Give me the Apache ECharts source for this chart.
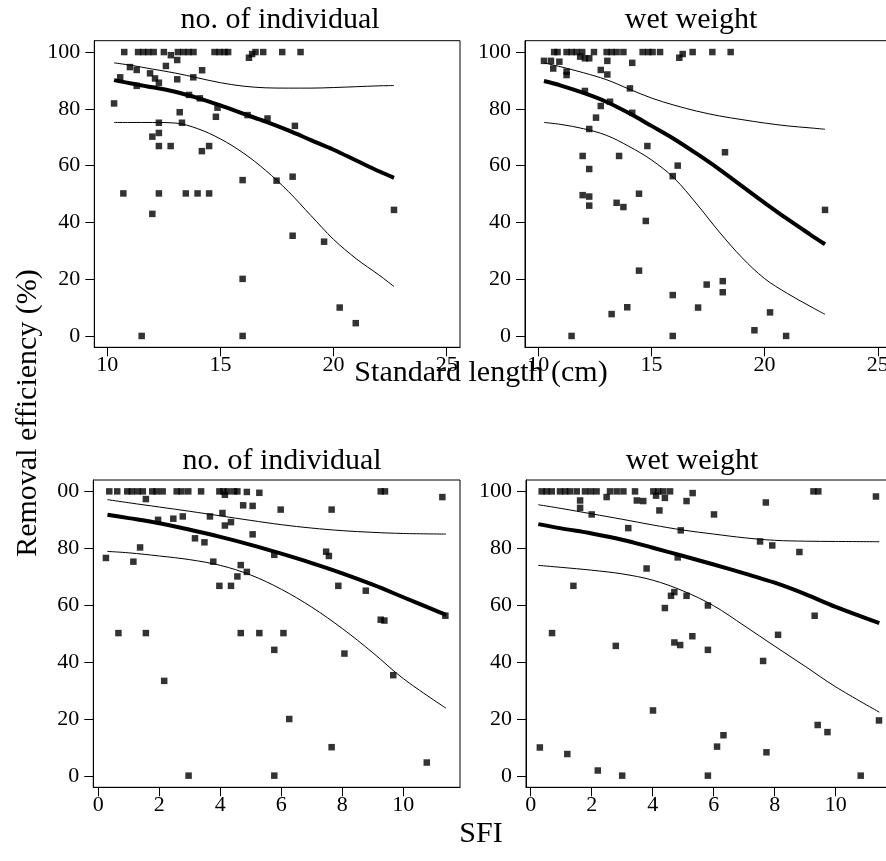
<!DOCTYPE html>
<html>
<head>
<meta charset="utf-8">
<script src="https://cdn.jsdelivr.net/npm/echarts@6/dist/echarts.min.js"></script>
<style>html,body{margin:0;padding:0;background:#fff}#c{width:886px;height:861px}</style>
</head>
<body>
<div id="c"></div>
<script>
// ---------- data ----------
const titles = ['no. of individual', 'wet weight', 'no. of individual', 'wet weight'];
const xNameTop = 'Standard length (cm)';
const xNameBottom = 'SFI';
const yName = 'Removal efficiency (%)';
const xTicksTop = [10, 15, 20, 25];
const xTicksBottom = [0, 2, 4, 6, 8, 10];
const yTicks = [0, 20, 40, 60, 80, 100];

// Panel 1: standard length vs removal efficiency (no. of individual)
const p1Points = [
[10.75,100],[11.36,100],[11.59,100],[11.81,100],[12.05,100],[12.50,100],[13.12,100],[13.36,100],[13.59,100],[13.81,100],
[14.74,100],[14.96,100],[15.18,100],[15.34,100],[16.26,98.0],[16.40,99.3],[16.55,100],[16.89,100],[17.73,100],[18.54,100],
[12.81,98.9],[13.09,97.2],[11.0,94.7],[11.30,93.7],[12.59,95.1],[11.89,92.5],[12.11,90.7],[12.28,89.2],[10.57,91.1],[11.30,88.1],
[13.09,90.4],[13.80,91.1],[14.19,93.6],[10.30,81.9],[13.61,84.9],[14.09,83.7],[14.87,80.4],[14.80,77.2],[13.20,78.8],[12.28,75.1],
[13.30,75.1],[16.20,77.8],[17.08,76.6],[12.28,71.5],[11.99,70.2],[12.28,66.9],[12.80,66.9],[14.18,65.1],[14.50,66.9],[15.98,54.9],
[10.71,50.2],[12.28,50.2],[13.47,50.2],[13.99,50.2],[14.50,50.2],[11.99,43.0],[15.98,20.1],[11.52,0],[15.98,0],
[18.29,74.0],[17.48,54.7],[18.19,56.1],[22.67,44.4],[18.19,35.3],[19.58,33.2],[20.27,10.0],[20.98,4.5]
];
const p1FitX = [10.3, 11, 12, 13, 14, 15, 16, 17, 18, 19, 20, 21, 22, 22.67];
const p1Mid  = [90.1, 89.0, 87.6, 86.0, 83.8, 81.2, 78.3, 75.5, 72.4, 69.0, 65.6, 61.8, 58.0, 55.7];
const p1Up   = [96.2, 95.4, 94.0, 92.6, 90.9, 89.2, 88.0, 87.4, 87.3, 87.3, 87.5, 87.8, 88.1, 88.2];
const p1Low  = [75.2, 75.2, 75.2, 75.0, 73.0, 69.4, 64.5, 58.3, 50.9, 42.4, 34.0, 27.2, 21.5, 17.4];

// Panel 2: standard length vs removal efficiency (wet weight)
const p2Points = [
[10.70,100],[10.85,100],[11.25,100],[11.47,100],[11.69,100],[11.94,100],[12.46,100],[13.02,100],[13.24,100],[13.46,100],
[13.76,100],[14.61,100],[14.86,100],[15.05,100],[15.38,100],[16.23,98.0],[16.38,99.3],[16.82,100],[17.69,100],[18.50,100],
[10.25,96.9],[10.56,96.9],[10.66,94.2],[10.93,96.6],[11.25,93.1],[11.25,91.9],[11.85,98.4],[12.06,97.8],[12.25,97.8],[12.76,93.7],
[13.05,96.9],[13.05,92.1],[14.15,96.2],[12.06,86.3],[14.05,87.2],[12.76,81.0],[13.17,82.5],[14.15,78.6],[12.55,76.9],[12.25,72.9],
[14.82,66.9],[11.96,63.4],[13.57,63.4],[12.25,58.8],[11.96,49.6],[12.25,49.1],[12.25,45.9],[13.46,46.9],[13.76,45.4],[14.45,50.1],
[14.75,40.5],[14.45,23.0],[13.93,10.1],[13.24,7.7],[11.47,0],
[18.25,64.7],[16.16,60.0],[15.94,56.3],[22.67,44.4],[17.44,18.1],[18.15,19.3],[18.15,15.4],[15.94,14.4],[17.06,10.0],[20.24,8.3],
[19.55,2.0],[15.94,0],[20.95,0]
];
const p2FitX = [10.25, 11, 12, 13, 14, 15, 16, 17, 18, 19, 20, 21, 22, 22.67];
const p2Mid  = [89.8, 88.2, 85.6, 82.5, 78.5, 74.0, 69.4, 64.2, 58.7, 52.8, 46.9, 41.2, 35.8, 32.3];
const p2Up   = [96.2, 94.8, 92.7, 90.3, 87.0, 83.8, 81.3, 79.2, 77.5, 76.2, 75.0, 74.0, 73.3, 72.8];
const p2Low  = [75.2, 74.5, 73.0, 70.7, 66.8, 62.0, 55.6, 46.5, 36.6, 27.6, 20.2, 15.0, 10.5, 7.6];

// Panel 3: SFI vs removal efficiency (no. of individual)
const p3Points = [
[0.36,100],[0.62,100],[0.95,100],[1.10,100],[1.29,100],[1.46,100],[1.77,100],[1.91,100],[2.11,100],[2.57,100],
[2.73,100],[2.95,100],[3.37,100],[3.97,100],[4.10,100],[4.24,100],[4.45,100],[4.56,100],[4.87,99.8],[5.28,99.5],
[9.26,100],[9.40,100],
[4.15,98.8],[1.56,97.3],[4.75,95.1],[5.06,94.9],[4.07,92.4],[4.15,88.0],[4.35,89.2],[5.06,84.9],[1.96,90.0],[2.46,90.4],
[2.77,91.2],[3.66,91.2],[3.17,83.5],[3.48,82.1],[1.37,80.3],[0.25,76.6],[1.15,75.3],[3.77,75.3],[4.67,74.1],[4.87,71.7],
[4.56,70.1],[3.97,66.8],[4.35,66.8],[0.66,50.2],[1.56,50.2],[4.67,50.2],[5.28,50.2],[2.16,33.4],[2.96,0.1],
[5.98,93.6],[7.65,93.6],[11.28,98.0],[5.77,77.7],[7.47,78.8],[7.56,77.3],[7.87,66.8],[8.77,65.1],[9.26,54.9],[9.38,54.6],
[11.38,56.3],[6.07,50.2],[5.77,44.3],[8.07,43.0],[9.67,35.4],[6.26,20.0],[7.65,10.1],[10.77,4.7],[5.77,0.1]
];
const p3FitX = [0.3, 1, 2, 3, 4, 5, 6, 7, 8, 9, 10, 11.4];
const p3Mid  = [91.8, 90.6, 88.8, 86.5, 84.0, 81.2, 78.1, 74.8, 71.2, 67.2, 62.8, 56.6];
const p3Up   = [97.1, 96.0, 94.5, 93.0, 91.4, 89.8, 88.3, 87.1, 86.2, 85.6, 85.2, 85.0];
const p3Low  = [78.9, 78.4, 77.3, 76.0, 74.0, 70.6, 65.6, 59.3, 51.8, 43.3, 34.2, 23.8];

// Panel 4: SFI vs removal efficiency (wet weight)
const p4Points = [
[0.36,100],[0.52,100],[0.69,100],[0.96,100],[1.13,100],[1.29,100],[1.51,100],[1.78,100],[1.97,100],[2.16,100],
[2.60,100],[2.82,100],[3.04,100],[3.42,100],[4.02,100],[4.18,100],[4.35,100],[4.57,100],[9.27,100],[9.43,100],[5.31,99.4],
[1.62,96.8],[1.62,94.2],[2.0,91.9],[2.49,98.0],[3.48,96.8],[3.69,96.6],[3.20,87.1],[3.80,72.9],[1.40,66.8],[0.70,50.2],
[2.79,45.7],[0.30,10.0],[1.20,7.7],[2.20,1.9],[3.0,0.1],
[4.11,98.5],[4.40,97.7],[5.11,96.6],[7.71,96.1],[11.32,98.2],[4.22,93.3],[6.01,91.9],[4.92,86.3],[7.52,82.4],[7.92,81.0],
[8.81,78.7],[4.82,76.8],[4.71,64.6],[4.60,63.3],[5.11,63.3],[4.40,59.0],[5.81,59.9],[9.31,56.3],[5.30,49.1],[8.11,49.6],
[4.71,46.9],[4.90,46.0],[5.81,44.3],[7.62,40.4],[4.01,23.0],[11.42,19.5],[9.41,17.9],[9.73,15.4],[6.32,14.3],[6.11,10.3],
[7.73,8.3],[5.81,0.1],[10.82,0.1]
];
const p4FitX = [0.25, 1, 2, 3, 4, 5, 6, 7, 8, 9, 10, 11.43];
const p4Mid  = [88.5, 87.0, 85.2, 83.0, 80.2, 77.3, 74.3, 71.2, 67.9, 63.9, 59.4, 53.7];
const p4Up   = [95.3, 94.0, 92.1, 90.2, 88.2, 86.4, 85.0, 83.7, 82.8, 82.5, 82.4, 82.3];
const p4Low  = [74.0, 73.3, 72.3, 71.0, 68.8, 65.0, 59.8, 52.8, 45.6, 38.5, 31.3, 22.4];

// ---------- chart ----------
const FONT = '"Liberation Serif", "Times New Roman", serif';
const panels = [
  {pts: p1Points, fx: p1FitX, mid: p1Mid, up: p1Up, low: p1Low, grid: {left: 94.3, top: 40.7, width: 365.7, height: 306.6}, xmin: 9.426, xmax: 25.586, ticks: xTicksTop},
  {pts: p2Points, fx: p2FitX, mid: p2Mid, up: p2Up, low: p2Low, grid: {left: 525, top: 40.7, width: 365.7, height: 306.6}, xmin: 9.412, xmax: 25.572, ticks: xTicksTop},
  {pts: p3Points, fx: p3FitX, mid: p3Mid, up: p3Up, low: p3Low, grid: {left: 93.3, top: 480, width: 366.7, height: 307.3}, xmin: -0.164, xmax: 11.859, ticks: xTicksBottom, clip100: true},
  {pts: p4Points, fx: p4FitX, mid: p4Mid, up: p4Up, low: p4Low, grid: {left: 526, top: 480, width: 366.7, height: 307.3}, xmin: -0.154, xmax: 11.869, ticks: xTicksBottom}
];

const zip = (xs, ys) => xs.map((x, i) => [x, ys[i]]);

const option = {
  animation: false,
  backgroundColor: '#fff',
  grid: [], xAxis: [], yAxis: [], series: [],
  graphic: []
};

panels.forEach((p, i) => {
  option.grid.push(Object.assign({show: true, borderColor: '#000', borderWidth: 1, backgroundColor: 'transparent', containLabel: false, outerBoundsMode: 'none'}, p.grid));
  option.xAxis.push({
    type: 'value', gridIndex: i, min: p.xmin, max: p.xmax,
    axisLine: {show: true, onZero: false, lineStyle: {color: '#000', width: 1}},
    axisTick: {show: true, length: 9, inside: false, customValues: p.ticks, lineStyle: {color: '#000'}},
    axisLabel: {show: true, customValues: p.ticks, margin: 7, color: '#000', fontFamily: FONT, fontSize: 22, showMinLabel: true, showMaxLabel: true},
    splitLine: {show: false}
  });
  option.yAxis.push({
    type: 'value', gridIndex: i, min: -4, max: 104,
    axisLine: {show: true, onZero: false, lineStyle: {color: '#000', width: 1}},
    axisTick: {show: true, length: 9, inside: false, customValues: yTicks, lineStyle: {color: '#000'}},
    axisLabel: {show: true, customValues: yTicks, margin: 14, color: '#000', fontFamily: FONT, fontSize: 22,
      formatter: p.clip100 ? (v => (v === 100 ? '00' : String(v))) : (v => String(v))},
    splitLine: {show: false}
  });
  option.series.push({
    type: 'scatter', xAxisIndex: i, yAxisIndex: i, data: p.pts,
    symbol: 'rect', symbolSize: 6.5, itemStyle: {color: '#000'}, z: 3
  });
  const lineBase = {type: 'line', xAxisIndex: i, yAxisIndex: i, smooth: 0.35, showSymbol: false, symbol: 'none', z: 4};
  option.series.push(Object.assign({}, lineBase, {data: zip(p.fx, p.mid), lineStyle: {color: '#000', width: 4}}));
  option.series.push(Object.assign({}, lineBase, {data: zip(p.fx, p.up), lineStyle: {color: '#000', width: 1}}));
  option.series.push(Object.assign({}, lineBase, {data: zip(p.fx, p.low), lineStyle: {color: '#000', width: 1}}));
});

const txt = (text, x, y, size, rot) => ({
  type: 'text', x: x, y: y, rotation: rot || 0, z: 10,
  style: {text: text, fill: '#000', font: size + 'px ' + FONT, align: 'center', verticalAlign: 'middle', textAlign: 'center', textVerticalAlign: 'middle'}
});
option.graphic = [
  txt(titles[0], 280, 20, 30),
  txt(titles[1], 691, 20, 30),
  txt(titles[2], 282, 461, 30),
  txt(titles[3], 692, 461, 30),
  txt(xNameTop, 481, 373, 30),
  txt(xNameBottom, 481, 834, 30),
  txt(yName, 28, 413, 30, Math.PI / 2)
];

const chart = echarts.init(document.getElementById('c'), null, {renderer: 'canvas'});
chart.setOption(option);
</script>
</body>
</html>
